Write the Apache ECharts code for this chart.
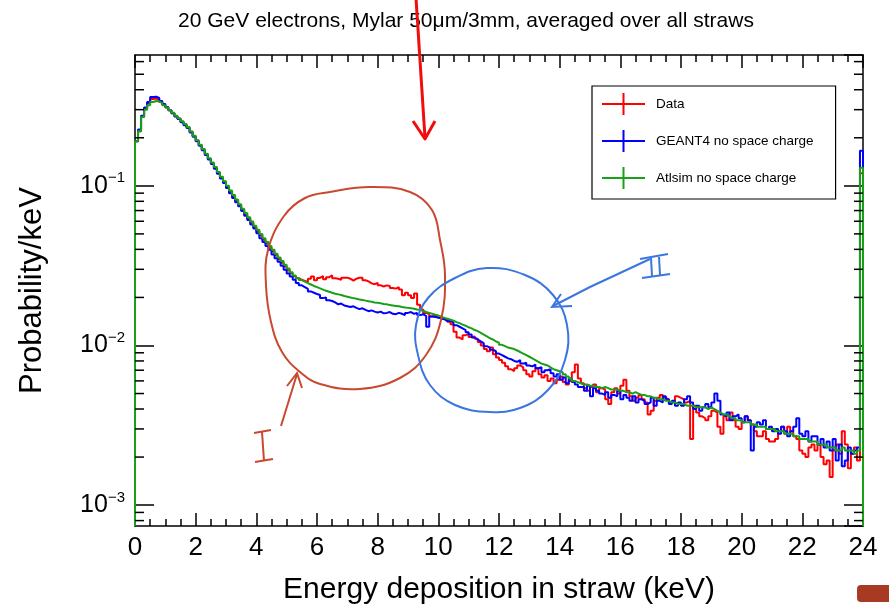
<!DOCTYPE html>
<html>
<head>
<meta charset="utf-8">
<title>Energy deposition in straw</title>
<script src="https://cdn.jsdelivr.net/npm/echarts@6/dist/echarts.min.js"></script>
<style>
  html, body { margin: 0; padding: 0; background: #fff; }
  #chart { width: 889px; height: 610px; }
</style>
</head>
<body>
<div id="chart"></div>
<script>
// histogram contents, 0.1 keV bins from 0 to 24 keV (probability / keV)
var BIN = 0.1;
var Y_MIN = 7.4e-4;
var Y_MAX = 0.66;

var dataVals = [
  0.19, 0.22, 0.27, 0.305, 0.33, 0.35, 0.352, 0.347, 0.335, 0.322,
  0.31, 0.297, 0.285, 0.273, 0.263, 0.252, 0.242, 0.232, 0.218, 0.205,
  0.192, 0.18, 0.169, 0.158, 0.148, 0.139, 0.13, 0.121, 0.113, 0.106,
  0.099, 0.092, 0.086, 0.0808, 0.0758, 0.0708, 0.0665, 0.0625, 0.0588, 0.0553,
  0.052, 0.0488, 0.046, 0.0435, 0.041, 0.0388, 0.0368, 0.0348, 0.033, 0.0312,
  0.0296, 0.0283, 0.0272, 0.0264, 0.0258, 0.0254, 0.025, 0.0262, 0.027, 0.0256,
  0.0265, 0.0272, 0.026, 0.0268, 0.0275, 0.0264, 0.0262, 0.0258, 0.0266, 0.0266,
  0.0262, 0.0255, 0.0262, 0.0266, 0.0266, 0.0256, 0.0252, 0.0245, 0.0242, 0.0247,
  0.0238, 0.0234, 0.0238, 0.0236, 0.0229, 0.0227, 0.0232, 0.0224, 0.0206, 0.0214,
  0.0206, 0.0198, 0.0212, 0.018, 0.0168, 0.016, 0.0157, 0.0152, 0.0154, 0.015,
  0.0152, 0.0147, 0.0146, 0.0141, 0.0136, 0.0122, 0.0112, 0.0109, 0.0116, 0.0118,
  0.0113, 0.0114, 0.011, 0.0105, 0.01, 0.0095, 0.0092, 0.0097, 0.0088, 0.0084,
  0.0081, 0.0078, 0.0074, 0.0071, 0.0069, 0.0072, 0.0075, 0.0073, 0.007, 0.0066,
  0.0064, 0.0069, 0.0072, 0.0066, 0.0063, 0.0065, 0.006, 0.0062, 0.0058, 0.0061,
  0.0064, 0.0059, 0.0057, 0.006, 0.0068, 0.0076, 0.0062, 0.0058, 0.0054, 0.0052,
  0.0055, 0.0057, 0.0051, 0.0054, 0.0053, 0.0046, 0.0043, 0.0051, 0.0054, 0.005,
  0.0056, 0.0061, 0.0052, 0.0048, 0.0045, 0.0047, 0.0049, 0.0046, 0.0044, 0.0037,
  0.0039, 0.0045, 0.0047, 0.0049, 0.0047, 0.0046, 0.0044, 0.0045, 0.0048, 0.0047,
  0.0046, 0.0044, 0.0045, 0.0026, 0.0042, 0.0038, 0.0036, 0.0035, 0.0034, 0.0036,
  0.0039, 0.0038, 0.0031, 0.0028, 0.0036, 0.0034, 0.0038, 0.0034, 0.0031, 0.003,
  0.0033, 0.0036, 0.0034, 0.0032, 0.0029, 0.0027, 0.0027, 0.0029, 0.0026, 0.0025,
  0.0025, 0.0026, 0.0029, 0.0031, 0.0028, 0.0031, 0.0029, 0.0027, 0.0026, 0.0022,
  0.0021, 0.002, 0.0023, 0.0024, 0.0022, 0.0024, 0.002, 0.0018, 0.0019, 0.0015,
  0.0022, 0.0024, 0.0021, 0.0029, 0.0024, 0.0017, 0.0021, 0.0023, 0.0019, 0.12
];

var geantVals = [
  0.19, 0.225, 0.275, 0.31, 0.335, 0.36, 0.362, 0.355, 0.34, 0.325,
  0.312, 0.298, 0.285, 0.272, 0.262, 0.25, 0.24, 0.23, 0.216, 0.203,
  0.19, 0.178, 0.167, 0.156, 0.146, 0.137, 0.128, 0.119, 0.111, 0.104,
  0.097, 0.09, 0.084, 0.079, 0.0745, 0.0695, 0.065, 0.061, 0.0572, 0.054,
  0.0505, 0.047, 0.0445, 0.042, 0.0398, 0.0372, 0.0352, 0.0335, 0.0316, 0.0298,
  0.0282, 0.027, 0.0258, 0.0246, 0.0238, 0.0232, 0.0226, 0.0218, 0.0214, 0.021,
  0.0207, 0.0198, 0.02, 0.0192, 0.019, 0.0186, 0.0181, 0.0183, 0.0178, 0.0176,
  0.0174, 0.0176, 0.0172, 0.0169, 0.0171, 0.0167, 0.0164, 0.0166, 0.0163, 0.0161,
  0.0163, 0.0159, 0.016, 0.0162, 0.0158, 0.0157, 0.016, 0.0158, 0.0155, 0.016,
  0.0162, 0.0158, 0.016, 0.0155, 0.0157, 0.0153, 0.0131, 0.0152, 0.0151, 0.0149,
  0.0148, 0.0146, 0.0142, 0.0143, 0.0139, 0.0134, 0.0131, 0.0128, 0.0125, 0.0121,
  0.0117, 0.0112, 0.0109, 0.0106, 0.0103, 0.0099, 0.0097, 0.0094, 0.0092, 0.0089,
  0.0087, 0.0085, 0.0083, 0.0082, 0.008, 0.0079, 0.0081, 0.0077, 0.0078, 0.0075,
  0.0074, 0.0076, 0.0072, 0.0073, 0.0068, 0.007, 0.0071, 0.0067, 0.0064, 0.0066,
  0.0061, 0.0063, 0.0058, 0.0062, 0.0059, 0.0057, 0.0055, 0.0055, 0.0052, 0.0056,
  0.0048, 0.0054, 0.0052, 0.005, 0.0049, 0.0051, 0.0047, 0.0049, 0.0048, 0.0052,
  0.0046, 0.0049, 0.0047, 0.0045, 0.0048, 0.0044, 0.0046, 0.0045, 0.0043, 0.0044,
  0.0047, 0.0042, 0.0045, 0.0044, 0.0048, 0.0046, 0.0043, 0.0045, 0.0042, 0.0044,
  0.0042, 0.0046, 0.0048, 0.0044, 0.004, 0.0042, 0.0039, 0.0041, 0.0043, 0.0041,
  0.0044, 0.005, 0.0045, 0.0037, 0.0036, 0.0038, 0.0034, 0.0036, 0.0037, 0.0035,
  0.0033, 0.0036, 0.0034, 0.0022, 0.0031, 0.0033, 0.0032, 0.0034, 0.003, 0.0031,
  0.0029, 0.003, 0.0028, 0.0031, 0.0029, 0.0027, 0.0029, 0.0031, 0.0035, 0.0028,
  0.0027, 0.0029, 0.0025, 0.0027, 0.0027, 0.0024, 0.0026, 0.0023, 0.0025, 0.0022,
  0.0026, 0.0019, 0.0024, 0.00175, 0.0019, 0.0023, 0.0021, 0.0022, 0.0023, 0.166
];

var atlsimVals = [
  0.19, 0.22, 0.27, 0.30, 0.32, 0.335, 0.34, 0.338, 0.33, 0.32,
  0.31, 0.298, 0.287, 0.275, 0.265, 0.254, 0.244, 0.234, 0.219, 0.206,
  0.193, 0.181, 0.170, 0.159, 0.149, 0.140, 0.131, 0.122, 0.114, 0.107,
  0.100, 0.0935, 0.0875, 0.082, 0.0768, 0.0718, 0.0675, 0.0636, 0.0598, 0.0563,
  0.053, 0.050, 0.047, 0.0445, 0.042, 0.0398, 0.0376, 0.0356, 0.0338, 0.032,
  0.0303, 0.0288, 0.0274, 0.0265, 0.0257, 0.0251, 0.0246, 0.0241, 0.0236, 0.0232,
  0.0228, 0.0224, 0.022, 0.0217, 0.0214, 0.0211, 0.0209, 0.0207, 0.0204, 0.0202,
  0.020, 0.0198, 0.0196, 0.0194, 0.0193, 0.0191, 0.0189, 0.0188, 0.0186, 0.0185,
  0.0184, 0.0182, 0.0181, 0.0179, 0.0178, 0.0177, 0.0176, 0.0174, 0.0173, 0.0172,
  0.0171, 0.017, 0.0168, 0.0167, 0.0165, 0.0162, 0.016, 0.0158, 0.0156, 0.0154,
  0.0151, 0.0149, 0.0147, 0.0145, 0.0143, 0.014, 0.0138, 0.0135, 0.0133, 0.013,
  0.0128, 0.0125, 0.0123, 0.012, 0.0117, 0.0114, 0.0111, 0.0109, 0.0106, 0.0104,
  0.0101, 0.0099, 0.0097, 0.0096, 0.0095, 0.0093, 0.0091, 0.0089, 0.0087, 0.0085,
  0.0083, 0.0081, 0.0079, 0.0077, 0.0076, 0.0075, 0.0073, 0.0071, 0.007, 0.0069,
  0.0068, 0.0066, 0.0064, 0.0062, 0.006, 0.0059, 0.0058, 0.0057, 0.0057, 0.0056,
  0.0056, 0.0055, 0.0055, 0.0054, 0.0055, 0.0054, 0.0053, 0.0053, 0.0053, 0.0052,
  0.0052, 0.0051, 0.0051, 0.005, 0.0051, 0.005, 0.0049, 0.0049, 0.0048, 0.0048,
  0.0047, 0.0047, 0.0046, 0.0046, 0.0045, 0.0045, 0.0044, 0.0044, 0.0043, 0.0043,
  0.0043, 0.0042, 0.0042, 0.0042, 0.0041, 0.0041, 0.0041, 0.0041, 0.004, 0.0041,
  0.004, 0.0039, 0.0038, 0.0037, 0.0037, 0.0036, 0.0035, 0.0035, 0.0034, 0.0034,
  0.0033, 0.0033, 0.0033, 0.0032, 0.0032, 0.0031, 0.0031, 0.0031, 0.003, 0.003,
  0.003, 0.0029, 0.0029, 0.0029, 0.0028, 0.0028, 0.0028, 0.0027, 0.0027, 0.0026,
  0.0026, 0.0026, 0.0025, 0.0025, 0.0025, 0.0024, 0.0024, 0.0024, 0.0023, 0.0023,
  0.0023, 0.0022, 0.0022, 0.0023, 0.0022, 0.0022, 0.0022, 0.0021, 0.0022, 0.13
];

var seriesNames = ['Data', 'GEANT4 no space charge', 'Atlsim no space charge'];
var seriesColors = ['#ff0000', '#0000ff', '#18a018'];
var yMinorMult = [2, 3, 4, 5, 6, 7, 8, 9];
var yDecades = [-4, -3, -2, -1];

var FONT = '"Liberation Sans", Arial, Helvetica, sans-serif';
var CROSS = 'path://M0,10h43v2H0z M20.5,0h2v22h-2z';

function stepData(vals) {
  var pts = [[0, Y_MIN]];
  for (var i = 0; i < vals.length; i++) {
    pts.push([Math.round(i * BIN * 10) / 10, vals[i]]);
  }
  pts.push([vals.length * BIN, vals[vals.length - 1]]);
  pts.push([vals.length * BIN, Y_MIN]);
  return pts;
}

function minorTickValues() {
  var out = [];
  for (var d = 0; d < yDecades.length; d++) {
    for (var m = 0; m < yMinorMult.length; m++) {
      var v = yMinorMult[m] * Math.pow(10, yDecades[d]);
      if (v > Y_MIN && v < Y_MAX) out.push([0, v]);
    }
  }
  return out;
}

function histSeries(idx, vals) {
  return {
    name: seriesNames[idx],
    type: 'line',
    step: 'end',
    showSymbol: false,
    symbol: 'none',
    data: stepData(vals),
    lineStyle: { color: seriesColors[idx], width: 2 },
    itemStyle: { color: seriesColors[idx] },
    emphasis: { disabled: true },
    z: 3 + idx
  };
}

function logLabel(v) {
  var e = Math.log(v) / Math.LN10;
  var r = Math.round(e);
  if (Math.abs(e - r) > 1e-6) return '';
  return '{b|10}{s|\u2212' + Math.abs(r) + '}';
}

var chart = echarts.init(document.getElementById('chart'), null, { renderer: 'canvas' });

var option = {
  backgroundColor: '#fff',
  animation: false,
  textStyle: { fontFamily: FONT, color: '#000' },
  title: {
    text: '20 GeV electrons, Mylar 50\u03bcm/3mm, averaged over all straws',
    left: 461,
    top: 6,
    textAlign: 'center',
    textStyle: { fontFamily: FONT, fontSize: 21, fontWeight: 'normal', color: '#000' }
  },
  grid: { left: 135, right: 26, top: 55, bottom: 83, show: false },
  legend: {
    orient: 'vertical',
    left: 592,
    top: 86,
    padding: [7, 22, 10, 10],
    itemWidth: 43,
    itemHeight: 22,
    itemGap: 15,
    itemStyle: { borderWidth: 0 },
    borderColor: '#000',
    borderWidth: 1.2,
    backgroundColor: '#fff',
    textStyle: { fontFamily: FONT, fontSize: 13.5, color: '#000', padding: [0, 0, 0, 6] },
    selectedMode: false,
    data: [
      { name: seriesNames[0], icon: CROSS },
      { name: seriesNames[1], icon: CROSS },
      { name: seriesNames[2], icon: CROSS }
    ]
  },
  xAxis: [{
    type: 'value',
    min: 0,
    max: 24,
    interval: 2,
    name: 'Energy deposition in straw (keV)',
    nameLocation: 'middle',
    nameGap: 49,
    nameTextStyle: { fontFamily: FONT, fontSize: 30, color: '#000' },
    axisLine: { show: true, onZero: false, lineStyle: { color: '#000', width: 1.5 } },
    axisTick: { show: true, inside: true, length: 13, lineStyle: { color: '#000', width: 1.5 } },
    minorTick: { show: true, splitNumber: 4, length: 7, lineStyle: { color: '#000', width: 1.5 } },
    axisLabel: { fontFamily: FONT, fontSize: 26, color: '#000', margin: 9 },
    splitLine: { show: false }
  }, {
    type: 'value',
    position: 'top',
    min: 0,
    max: 24,
    interval: 2,
    axisLine: { show: true, onZero: false, lineStyle: { color: '#000', width: 1.5 } },
    axisTick: { show: true, inside: true, length: 13, lineStyle: { color: '#000', width: 1.5 } },
    minorTick: { show: true, splitNumber: 4, length: 7, lineStyle: { color: '#000', width: 1.5 } },
    axisLabel: { show: false },
    splitLine: { show: false }
  }],
  yAxis: [{
    type: 'log',
    logBase: 10,
    min: Y_MIN,
    max: Y_MAX,
    name: 'Probability/keV',
    nameLocation: 'middle',
    nameRotate: 90,
    nameGap: 87,
    nameTextStyle: { fontFamily: FONT, fontSize: 31, color: '#000' },
    axisLine: { show: true, onZero: false, lineStyle: { color: '#000', width: 1.5 } },
    axisTick: { show: true, inside: true, length: 19, lineStyle: { color: '#000', width: 1.5 } },
    axisLabel: {
      margin: 10,
      showMinLabel: false,
      showMaxLabel: false,
      formatter: logLabel,
      rich: {
        b: { fontFamily: FONT, fontSize: 25, color: '#000', lineHeight: 30 },
        s: { fontFamily: FONT, fontSize: 15, color: '#000', verticalAlign: 'top', lineHeight: 16 }
      }
    },
    splitLine: { show: false }
  }, {
    type: 'log',
    logBase: 10,
    position: 'right',
    min: Y_MIN,
    max: Y_MAX,
    axisLine: { show: true, onZero: false, lineStyle: { color: '#000', width: 1.5 } },
    axisTick: { show: true, inside: true, length: 19, lineStyle: { color: '#000', width: 1.5 } },
    axisLabel: { show: false },
    splitLine: { show: false }
  }],
  series: [
    histSeries(0, dataVals),
    histSeries(1, geantVals),
    histSeries(2, atlsimVals),
    {
      // log minor ticks on left and right frame
      type: 'custom',
      silent: true,
      clip: false,
      z: 10,
      data: minorTickValues(),
      renderItem: function(params, api) {
        var y = api.coord([0, api.value(1)])[1];
        var cs = params.coordSys;
        var st = { stroke: '#000', lineWidth: 1.5 };
        return {
          type: 'group',
          children: [
            { type: 'line', shape: { x1: cs.x, y1: y, x2: cs.x + 9, y2: y }, style: st },
            { type: 'line', shape: { x1: cs.x + cs.width - 9, y1: y, x2: cs.x + cs.width, y2: y }, style: st }
          ]
        };
      }
    }
  ],
  graphic: [
    // hand-drawn annotations on top of the plot
    {
      type: 'polyline', silent: true, z: 100,
      shape: { points: [[416, -2], [425, 138]] },
      style: { stroke: '#f20d0d', lineWidth: 3, fill: null }
    },
    {
      type: 'polyline', silent: true, z: 100,
      shape: { points: [[413, 121], [425, 139], [435, 121]] },
      style: { stroke: '#f20d0d', lineWidth: 3, fill: null, lineJoin: 'round' }
    },
    {
      type: 'polygon', silent: true, z: 100,
      shape: {
        smooth: 0.4,
        points: [[330, 192], [370, 187], [410, 192], [432, 210], [440, 240], [445, 275], [441, 320],
          [426, 355], [400, 378], [360, 389], [320, 384], [300, 372], [282, 352], [271, 322],
          [266, 285], [268, 250], [284, 216], [305, 198]]
      },
      style: { stroke: '#c9482f', lineWidth: 2, fill: null }
    },
    {
      type: 'polyline', silent: true, z: 100,
      shape: { points: [[281, 426], [297, 374]] },
      style: { stroke: '#c9482f', lineWidth: 2, fill: null }
    },
    {
      type: 'polyline', silent: true, z: 100,
      shape: { points: [[287, 386], [297, 373], [302, 388]] },
      style: { stroke: '#c9482f', lineWidth: 2, fill: null }
    },
    {
      type: 'polyline', silent: true, z: 100,
      shape: { points: [[254, 433], [271, 430]] },
      style: { stroke: '#c9482f', lineWidth: 2, fill: null }
    },
    {
      type: 'polyline', silent: true, z: 100,
      shape: { points: [[262, 432], [264, 461]] },
      style: { stroke: '#c9482f', lineWidth: 2, fill: null }
    },
    {
      type: 'polyline', silent: true, z: 100,
      shape: { points: [[255, 462], [273, 459]] },
      style: { stroke: '#c9482f', lineWidth: 2, fill: null }
    },
    {
      type: 'polygon', silent: true, z: 100,
      shape: {
        smooth: 0.4,
        points: [[487, 268], [525, 275], [553, 295], [567, 325], [565, 360], [548, 390], [520, 408],
          [490, 412], [455, 405], [430, 385], [418, 355], [416, 325], [428, 298], [455, 278]]
      },
      style: { stroke: '#3b76e0', lineWidth: 2, fill: null }
    },
    {
      type: 'polyline', silent: true, z: 100,
      shape: { points: [[650, 259], [590, 287], [553, 306]] },
      style: { stroke: '#3b76e0', lineWidth: 2, fill: null }
    },
    {
      type: 'polyline', silent: true, z: 100,
      shape: { points: [[561, 294], [552, 307], [572, 306]] },
      style: { stroke: '#3b76e0', lineWidth: 2, fill: null }
    },
    {
      type: 'polyline', silent: true, z: 100,
      shape: { points: [[640, 259], [668, 254]] },
      style: { stroke: '#3b76e0', lineWidth: 2, fill: null }
    },
    {
      type: 'polyline', silent: true, z: 100,
      shape: { points: [[651, 258], [652, 276]] },
      style: { stroke: '#3b76e0', lineWidth: 2, fill: null }
    },
    {
      type: 'polyline', silent: true, z: 100,
      shape: { points: [[659, 257], [660, 275]] },
      style: { stroke: '#3b76e0', lineWidth: 2, fill: null }
    },
    {
      type: 'polyline', silent: true, z: 100,
      shape: { points: [[642, 278], [670, 274]] },
      style: { stroke: '#3b76e0', lineWidth: 2, fill: null }
    },
    {
      type: 'rect', silent: true, z: 100,
      shape: { x: 857, y: 585, width: 40, height: 17, r: 4 },
      style: { fill: '#a83a24' }
    }
  ]
};

chart.setOption(option);
</script>
</body>
</html>
